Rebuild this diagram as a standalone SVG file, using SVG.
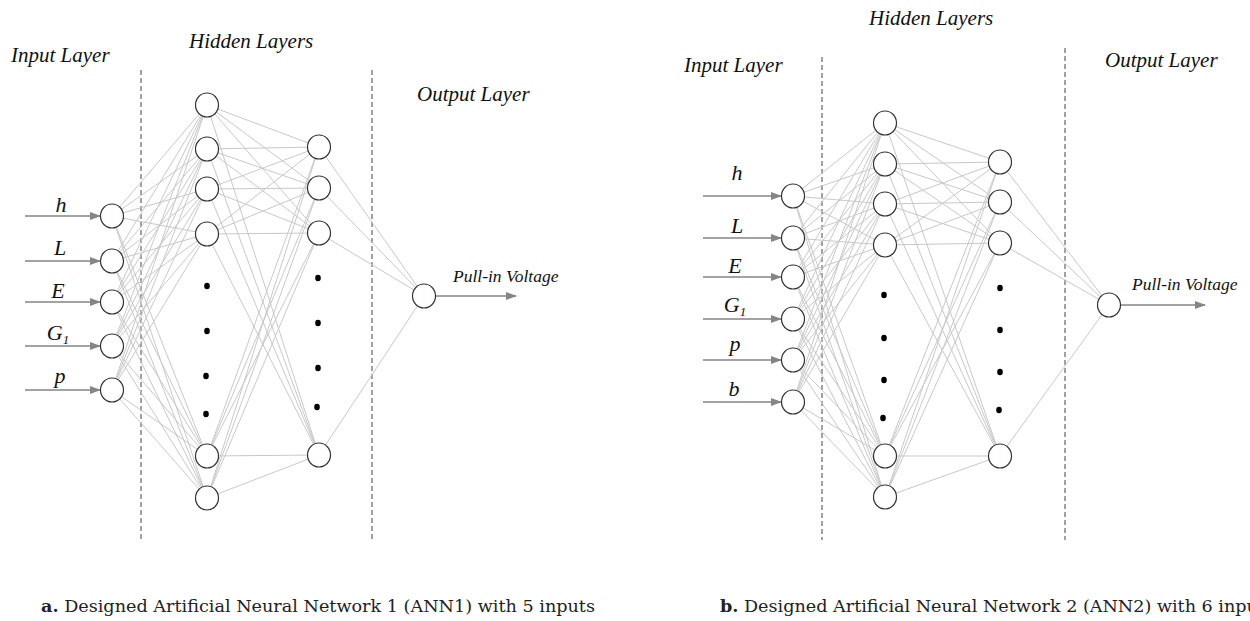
<svg xmlns="http://www.w3.org/2000/svg" width="1250" height="621" viewBox="0 0 1250 621">
<style>
.head{font-family:"Liberation Serif",serif;font-style:italic;font-size:21px;fill:#111}
.lbl{font-family:"Liberation Serif",serif;font-style:italic;font-size:22px;fill:#111;text-anchor:middle}
.pv{font-family:"Liberation Serif",serif;font-style:italic;font-size:17.5px;fill:#111}
.cap{font-family:"DejaVu Serif",serif;font-size:16px;fill:#222}
.node{fill:#fff;stroke:#333;stroke-width:1.2}
.dot{fill:#000}
.w line{stroke:#c8c8c8;stroke-width:1}
.arr{stroke:#858585;stroke-width:1.3;fill:none;marker-end:url(#ah)}
.dash{stroke:#444;stroke-width:1;stroke-dasharray:5,3}
</style>
<defs>
<marker id="ah" markerWidth="11" markerHeight="8" refX="10" refY="4" orient="auto" markerUnits="userSpaceOnUse">
<path d="M0,0 L11,4 L0,8 z" fill="#858585"/>
</marker>
</defs>
<rect width="1250" height="621" fill="#fff"/>

<g id="dividers">
<line class="dash" x1="141" y1="70" x2="141" y2="540"/>
<line class="dash" x1="372" y1="70" x2="372" y2="540"/>
<line class="dash" x1="822" y1="57" x2="822" y2="540"/>
<line class="dash" x1="1065" y1="48" x2="1065" y2="540"/>
</g>

<g id="connectors">
<g class="w">
<line x1="112" y1="216" x2="207" y2="105"/><line x1="112" y1="216" x2="207" y2="149"/><line x1="112" y1="216" x2="207" y2="189"/><line x1="112" y1="216" x2="207" y2="234"/><line x1="112" y1="216" x2="207" y2="456"/><line x1="112" y1="216" x2="207" y2="498"/>
<line x1="112" y1="261" x2="207" y2="105"/><line x1="112" y1="261" x2="207" y2="149"/><line x1="112" y1="261" x2="207" y2="189"/><line x1="112" y1="261" x2="207" y2="234"/><line x1="112" y1="261" x2="207" y2="456"/><line x1="112" y1="261" x2="207" y2="498"/>
<line x1="112" y1="302" x2="207" y2="105"/><line x1="112" y1="302" x2="207" y2="149"/><line x1="112" y1="302" x2="207" y2="189"/><line x1="112" y1="302" x2="207" y2="234"/><line x1="112" y1="302" x2="207" y2="456"/><line x1="112" y1="302" x2="207" y2="498"/>
<line x1="112" y1="346" x2="207" y2="105"/><line x1="112" y1="346" x2="207" y2="149"/><line x1="112" y1="346" x2="207" y2="189"/><line x1="112" y1="346" x2="207" y2="234"/><line x1="112" y1="346" x2="207" y2="456"/><line x1="112" y1="346" x2="207" y2="498"/>
<line x1="112" y1="390" x2="207" y2="105"/><line x1="112" y1="390" x2="207" y2="149"/><line x1="112" y1="390" x2="207" y2="189"/><line x1="112" y1="390" x2="207" y2="234"/><line x1="112" y1="390" x2="207" y2="456"/><line x1="112" y1="390" x2="207" y2="498"/>
<line x1="207" y1="105" x2="319" y2="147"/><line x1="207" y1="105" x2="319" y2="188"/><line x1="207" y1="105" x2="319" y2="233"/><line x1="207" y1="105" x2="319" y2="455"/>
<line x1="207" y1="149" x2="319" y2="147"/><line x1="207" y1="149" x2="319" y2="188"/><line x1="207" y1="149" x2="319" y2="233"/><line x1="207" y1="149" x2="319" y2="455"/>
<line x1="207" y1="189" x2="319" y2="147"/><line x1="207" y1="189" x2="319" y2="188"/><line x1="207" y1="189" x2="319" y2="233"/><line x1="207" y1="189" x2="319" y2="455"/>
<line x1="207" y1="234" x2="319" y2="147"/><line x1="207" y1="234" x2="319" y2="188"/><line x1="207" y1="234" x2="319" y2="233"/><line x1="207" y1="234" x2="319" y2="455"/>
<line x1="207" y1="456" x2="319" y2="147"/><line x1="207" y1="456" x2="319" y2="188"/><line x1="207" y1="456" x2="319" y2="233"/><line x1="207" y1="456" x2="319" y2="455"/>
<line x1="207" y1="498" x2="319" y2="147"/><line x1="207" y1="498" x2="319" y2="188"/><line x1="207" y1="498" x2="319" y2="233"/><line x1="207" y1="498" x2="319" y2="455"/>
<line x1="319" y1="147" x2="424" y2="296"/><line x1="319" y1="188" x2="424" y2="296"/><line x1="319" y1="233" x2="424" y2="296"/><line x1="319" y1="455" x2="424" y2="296"/>

<line x1="793" y1="196" x2="885" y2="123"/><line x1="793" y1="196" x2="885" y2="164"/><line x1="793" y1="196" x2="885" y2="204"/><line x1="793" y1="196" x2="885" y2="245"/><line x1="793" y1="196" x2="885" y2="456"/><line x1="793" y1="196" x2="885" y2="497"/>
<line x1="793" y1="238" x2="885" y2="123"/><line x1="793" y1="238" x2="885" y2="164"/><line x1="793" y1="238" x2="885" y2="204"/><line x1="793" y1="238" x2="885" y2="245"/><line x1="793" y1="238" x2="885" y2="456"/><line x1="793" y1="238" x2="885" y2="497"/>
<line x1="793" y1="277" x2="885" y2="123"/><line x1="793" y1="277" x2="885" y2="164"/><line x1="793" y1="277" x2="885" y2="204"/><line x1="793" y1="277" x2="885" y2="245"/><line x1="793" y1="277" x2="885" y2="456"/><line x1="793" y1="277" x2="885" y2="497"/>
<line x1="793" y1="319" x2="885" y2="123"/><line x1="793" y1="319" x2="885" y2="164"/><line x1="793" y1="319" x2="885" y2="204"/><line x1="793" y1="319" x2="885" y2="245"/><line x1="793" y1="319" x2="885" y2="456"/><line x1="793" y1="319" x2="885" y2="497"/>
<line x1="793" y1="360" x2="885" y2="123"/><line x1="793" y1="360" x2="885" y2="164"/><line x1="793" y1="360" x2="885" y2="204"/><line x1="793" y1="360" x2="885" y2="245"/><line x1="793" y1="360" x2="885" y2="456"/><line x1="793" y1="360" x2="885" y2="497"/>
<line x1="793" y1="402" x2="885" y2="123"/><line x1="793" y1="402" x2="885" y2="164"/><line x1="793" y1="402" x2="885" y2="204"/><line x1="793" y1="402" x2="885" y2="245"/><line x1="793" y1="402" x2="885" y2="456"/><line x1="793" y1="402" x2="885" y2="497"/>
<line x1="885" y1="123" x2="1000" y2="162"/><line x1="885" y1="123" x2="1000" y2="202"/><line x1="885" y1="123" x2="1000" y2="243"/><line x1="885" y1="123" x2="1000" y2="456"/>
<line x1="885" y1="164" x2="1000" y2="162"/><line x1="885" y1="164" x2="1000" y2="202"/><line x1="885" y1="164" x2="1000" y2="243"/><line x1="885" y1="164" x2="1000" y2="456"/>
<line x1="885" y1="204" x2="1000" y2="162"/><line x1="885" y1="204" x2="1000" y2="202"/><line x1="885" y1="204" x2="1000" y2="243"/><line x1="885" y1="204" x2="1000" y2="456"/>
<line x1="885" y1="245" x2="1000" y2="162"/><line x1="885" y1="245" x2="1000" y2="202"/><line x1="885" y1="245" x2="1000" y2="243"/><line x1="885" y1="245" x2="1000" y2="456"/>
<line x1="885" y1="456" x2="1000" y2="162"/><line x1="885" y1="456" x2="1000" y2="202"/><line x1="885" y1="456" x2="1000" y2="243"/><line x1="885" y1="456" x2="1000" y2="456"/>
<line x1="885" y1="497" x2="1000" y2="162"/><line x1="885" y1="497" x2="1000" y2="202"/><line x1="885" y1="497" x2="1000" y2="243"/><line x1="885" y1="497" x2="1000" y2="456"/>
<line x1="1000" y1="162" x2="1109" y2="305"/><line x1="1000" y1="202" x2="1109" y2="305"/><line x1="1000" y1="243" x2="1109" y2="305"/><line x1="1000" y1="456" x2="1109" y2="305"/>
</g>
<line class="arr" x1="25" y1="216" x2="100" y2="216"/>
<line class="arr" x1="25" y1="261" x2="100" y2="261"/>
<line class="arr" x1="25" y1="302" x2="100" y2="302"/>
<line class="arr" x1="25" y1="346" x2="100" y2="346"/>
<line class="arr" x1="25" y1="390" x2="100" y2="390"/>
<line class="arr" x1="436" y1="296" x2="516" y2="296"/>
<line class="arr" x1="703" y1="196" x2="781" y2="196"/>
<line class="arr" x1="703" y1="238" x2="781" y2="238"/>
<line class="arr" x1="703" y1="277" x2="781" y2="277"/>
<line class="arr" x1="703" y1="319" x2="781" y2="319"/>
<line class="arr" x1="703" y1="360" x2="781" y2="360"/>
<line class="arr" x1="703" y1="402" x2="781" y2="402"/>
<line class="arr" x1="1121" y1="305" x2="1205" y2="305"/>
</g>

<g id="a-in-h"><ellipse class="node" cx="112" cy="216" rx="11.5" ry="12"/></g>
<g id="a-in-L"><ellipse class="node" cx="112" cy="261" rx="11.5" ry="12"/></g>
<g id="a-in-E"><ellipse class="node" cx="112" cy="302" rx="11.5" ry="12"/></g>
<g id="a-in-G1"><ellipse class="node" cx="112" cy="346" rx="11.5" ry="12"/></g>
<g id="a-in-p"><ellipse class="node" cx="112" cy="390" rx="11.5" ry="12"/></g>
<g id="a-h1-1"><ellipse class="node" cx="207" cy="105" rx="11.5" ry="12"/></g>
<g id="a-h1-2"><ellipse class="node" cx="207" cy="149" rx="11.5" ry="12"/></g>
<g id="a-h1-3"><ellipse class="node" cx="207" cy="189" rx="11.5" ry="12"/></g>
<g id="a-h1-4"><ellipse class="node" cx="207" cy="234" rx="11.5" ry="12"/></g>
<g id="a-h1-5"><ellipse class="node" cx="207" cy="456" rx="11.5" ry="12"/></g>
<g id="a-h1-6"><ellipse class="node" cx="207" cy="498" rx="11.5" ry="12"/></g>
<g id="a-h2-1"><ellipse class="node" cx="319" cy="147" rx="11.5" ry="12"/></g>
<g id="a-h2-2"><ellipse class="node" cx="319" cy="188" rx="11.5" ry="12"/></g>
<g id="a-h2-3"><ellipse class="node" cx="319" cy="233" rx="11.5" ry="12"/></g>
<g id="a-h2-4"><ellipse class="node" cx="319" cy="455" rx="11.5" ry="12"/></g>
<g id="a-out"><ellipse class="node" cx="424" cy="296" rx="11.5" ry="12"/></g>
<g id="a-dots">
<ellipse class="dot" cx="207" cy="286" rx="2.8" ry="3.2"/><ellipse class="dot" cx="207" cy="331" rx="2.8" ry="3.2"/><ellipse class="dot" cx="206" cy="376" rx="2.8" ry="3.2"/><ellipse class="dot" cx="206" cy="414" rx="2.8" ry="3.2"/>
<ellipse class="dot" cx="318" cy="278" rx="2.8" ry="3.2"/><ellipse class="dot" cx="318" cy="323" rx="2.8" ry="3.2"/><ellipse class="dot" cx="318" cy="368" rx="2.8" ry="3.2"/><ellipse class="dot" cx="317" cy="407" rx="2.8" ry="3.2"/>
</g>

<g id="b-in-h"><ellipse class="node" cx="793" cy="196" rx="11.5" ry="12"/></g>
<g id="b-in-L"><ellipse class="node" cx="793" cy="238" rx="11.5" ry="12"/></g>
<g id="b-in-E"><ellipse class="node" cx="793" cy="277" rx="11.5" ry="12"/></g>
<g id="b-in-G1"><ellipse class="node" cx="793" cy="319" rx="11.5" ry="12"/></g>
<g id="b-in-p"><ellipse class="node" cx="793" cy="360" rx="11.5" ry="12"/></g>
<g id="b-in-b"><ellipse class="node" cx="793" cy="402" rx="11.5" ry="12"/></g>
<g id="b-h1-1"><ellipse class="node" cx="885" cy="123" rx="11.5" ry="12"/></g>
<g id="b-h1-2"><ellipse class="node" cx="885" cy="164" rx="11.5" ry="12"/></g>
<g id="b-h1-3"><ellipse class="node" cx="885" cy="204" rx="11.5" ry="12"/></g>
<g id="b-h1-4"><ellipse class="node" cx="885" cy="245" rx="11.5" ry="12"/></g>
<g id="b-h1-5"><ellipse class="node" cx="885" cy="456" rx="11.5" ry="12"/></g>
<g id="b-h1-6"><ellipse class="node" cx="885" cy="497" rx="11.5" ry="12"/></g>
<g id="b-h2-1"><ellipse class="node" cx="1000" cy="162" rx="11.5" ry="12"/></g>
<g id="b-h2-2"><ellipse class="node" cx="1000" cy="202" rx="11.5" ry="12"/></g>
<g id="b-h2-3"><ellipse class="node" cx="1000" cy="243" rx="11.5" ry="12"/></g>
<g id="b-h2-4"><ellipse class="node" cx="1000" cy="456" rx="11.5" ry="12"/></g>
<g id="b-out"><ellipse class="node" cx="1109" cy="305" rx="11.5" ry="12"/></g>
<g id="b-dots">
<ellipse class="dot" cx="884" cy="295" rx="2.8" ry="3.2"/><ellipse class="dot" cx="884" cy="338" rx="2.8" ry="3.2"/><ellipse class="dot" cx="884" cy="380" rx="2.8" ry="3.2"/><ellipse class="dot" cx="883" cy="418" rx="2.8" ry="3.2"/>
<ellipse class="dot" cx="1000" cy="288" rx="2.8" ry="3.2"/><ellipse class="dot" cx="1000" cy="330" rx="2.8" ry="3.2"/><ellipse class="dot" cx="1000" cy="372" rx="2.8" ry="3.2"/><ellipse class="dot" cx="999" cy="410" rx="2.8" ry="3.2"/>
</g>

<g id="labels">
<text class="head" x="11" y="62">Input Layer</text>
<text class="head" x="189" y="48">Hidden Layers</text>
<text class="head" x="417" y="101">Output Layer</text>
<text class="lbl" x="61" y="212">h</text>
<text class="lbl" x="60" y="255">L</text>
<text class="lbl" x="58" y="298">E</text>
<text class="lbl" x="58" y="340">G<tspan font-size="13" dy="4">1</tspan></text>
<text class="lbl" x="60" y="383">p</text>
<text class="pv" x="453" y="282">Pull-in Voltage</text>

<text class="head" x="869" y="25">Hidden Layers</text>
<text class="head" x="684" y="72">Input Layer</text>
<text class="head" x="1105" y="67">Output Layer</text>
<text class="lbl" x="737" y="180">h</text>
<text class="lbl" x="737" y="233">L</text>
<text class="lbl" x="735" y="273">E</text>
<text class="lbl" x="735" y="312">G<tspan font-size="13" dy="4">1</tspan></text>
<text class="lbl" x="735" y="351">p</text>
<text class="lbl" x="734" y="396">b</text>
<text class="pv" x="1132" y="290">Pull-in Voltage</text>

<text class="cap" x="41" y="612" textLength="554" lengthAdjust="spacingAndGlyphs"><tspan font-weight="bold">a.</tspan> Designed Artificial Neural Network 1 (ANN1) with 5 inputs</text>
<text class="cap" x="720" y="612" textLength="554" lengthAdjust="spacingAndGlyphs"><tspan font-weight="bold">b.</tspan> Designed Artificial Neural Network 2 (ANN2) with 6 inputs</text>
</g>
</svg>
